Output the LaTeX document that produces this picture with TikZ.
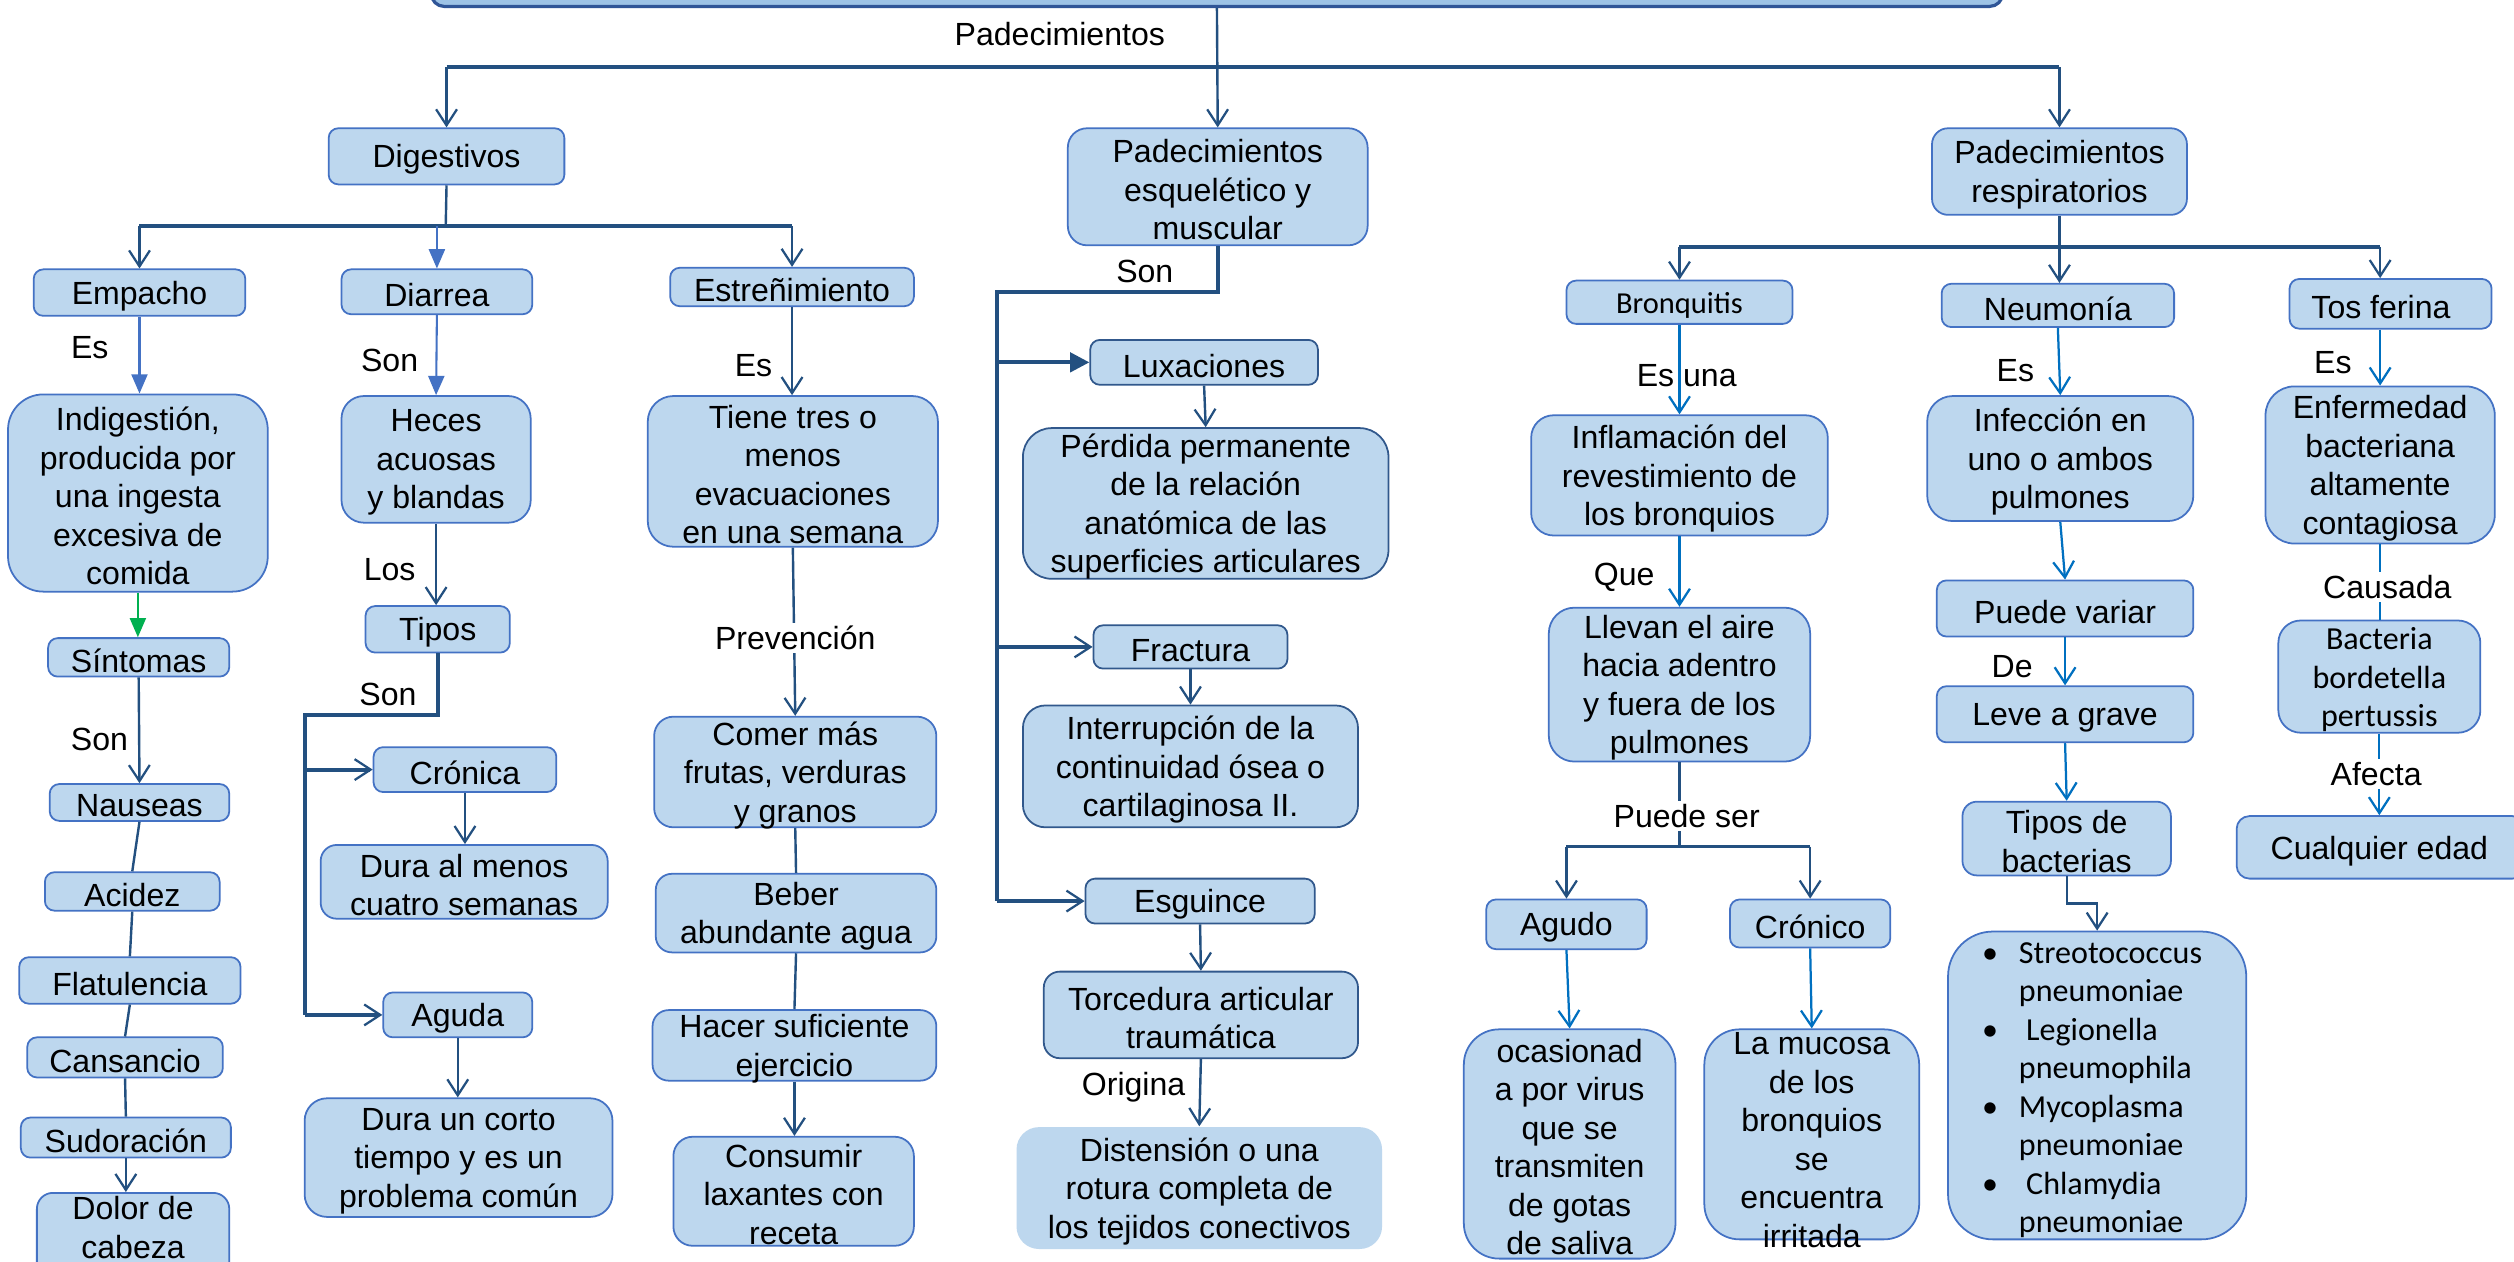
\documentclass[tikz,border=0pt]{standalone}
\usepackage{fontspec}
\setmainfont{Liberation Sans}
\newfontfamily\calfont{Carlito}
\usetikzlibrary{arrows.meta}
\definecolor{bfill}{RGB}{189,215,238}
\definecolor{bbord}{RGB}{68,114,196}
\definecolor{dbord}{RGB}{49,88,140}
\definecolor{lnk}{RGB}{35,80,128}
\definecolor{bblue}{RGB}{0,112,192}
\definecolor{mblue}{RGB}{68,114,196}
\definecolor{grn}{RGB}{0,176,80}
\definecolor{topfill}{RGB}{157,195,230}
\definecolor{topbord}{RGB}{47,85,151}
\newcommand\mybox[7][]{%
  \node[box,#1,minimum width={(#5-#3)*1pt},minimum height={(#6-#4)*1pt}] (#2) at ({(#3+#5)/2},{(#4+#6)/2}) {};
  \node[txt] (#2-t) at (#2.center) {#7};}
\begin{document}
\begin{tikzpicture}[x=1pt,y=-1pt,
  box/.style={draw=bbord,fill=bfill,line width=1.1pt,rounded corners=6pt,inner sep=0pt},
  dk/.style={draw=dbord},
  txt/.style={align=center,inner sep=0pt,yshift=-2pt,font=\fontsize{20}{24}\selectfont},
  lbl/.style={inner sep=1pt,font=\fontsize{20}{24}\selectfont},
  wl/.style={lbl,fill=white,inner sep=2pt},
  ln/.style={draw=lnk,line width=1.5pt},
  thk/.style={draw=lnk,line width=2.4pt},
  bl/.style={draw=bblue,line width=1.4pt},
  mb/.style={draw=mblue,line width=1.3pt},
  V/.style={-{Straight Barb[length=10pt,width=13pt,line width=1.4pt]}},
  T/.style={-{Triangle[length=12pt,width=10pt]}}]
\useasboundingbox (0,0) rectangle (1568,787);
\fill[white] (0,0) rectangle (1568,787);
\begin{scope}
\clip (0,0) rectangle (1568,787);
% top
\node[draw=topbord,fill=topfill,line width=2pt,rounded corners=8pt,minimum width=980pt,minimum height=44pt,inner sep=0pt] (top) at (759,-18) {};
\mybox{dig}{205}{80}{352}{115}{Digestivos}
\mybox[rounded corners=12pt]{pesq}{666}{80}{853}{153}{Padecimientos\\esquelético y\\muscular}
\mybox[rounded corners=10pt]{resp}{1205}{80}{1364}{134}{Padecimientos\\respiratorios}
% digestivos - empacho
\mybox{emp}{21}{168}{153}{197}{Empacho}
\mybox[rounded corners=22pt]{ind}{5}{246}{167}{369}{Indigestión,\\producida por\\una ingesta\\excesiva de\\comida}
\mybox{sin}{30}{398}{143}{422}{Síntomas}
\mybox{nau}{31}{489}{143}{512}{Nauseas}
\mybox{aci}{28}{544}{137}{568}{Acidez}
\mybox{fla}{12}{597}{150}{626}{Flatulencia}
\mybox{can}{17}{647}{139}{672}{Cansancio}
\mybox{sud}{13}{697}{144}{722}{Sudoración}
\node[box,rounded corners=10pt,minimum width=120pt,minimum height=60pt] (dol) at (83,774) {};
\node[align=center,inner sep=0pt,font=\fontsize{20}{24}\selectfont,text depth=0pt,anchor=south] (dol-t) at (83,785) {Dolor de\\cabeza};
% diarrea
\mybox{dia}{213}{168}{332}{196}{Diarrea}
\mybox[rounded corners=14pt]{hec}{213}{247}{331}{326}{Heces\\acuosas\\y blandas}
\mybox{tip}{228}{378}{318}{407}{Tipos}
\mybox{cro}{233}{466}{347}{494}{Crónica}
\mybox[rounded corners=10pt]{dam}{200}{527}{379}{573}{Dura al menos\\cuatro semanas}
\mybox{agu}{239}{619}{332}{647}{Aguda}
\mybox[rounded corners=14pt]{duc}{190}{685}{382}{759}{Dura un corto\\tiempo y es un\\problema común}
% estrenimiento
\mybox{est}{418}{167}{570}{191}{Estreñimiento}
\mybox[rounded corners=16pt]{tie}{404}{247}{585}{341}{Tiene tres o\\menos\\evacuaciones\\en una semana}
\mybox[rounded corners=12pt]{com}{408}{447}{584}{516}{Comer más\\frutas, verduras\\y granos}
\mybox[rounded corners=10pt]{beb}{409}{545}{584}{594}{Beber\\abundante agua}
\mybox[rounded corners=10pt]{hac}{407}{630}{584}{674}{Hacer suficiente\\ejercicio}
\mybox[rounded corners=12pt]{con}{420}{709}{570}{777}{Consumir\\laxantes con\\receta}
% esqueletico
\mybox[dk]{lux}{680}{212}{822}{240}{Luxaciones}
\mybox[dk,rounded corners=18pt]{per}{638}{267}{866}{361}{Pérdida permanente\\de la relación\\anatómica de las\\superficies articulares}
\mybox[dk]{fra}{682}{390}{803}{417}{Fractura}
\mybox[dk,rounded corners=14pt]{int}{638}{440}{847}{516}{Interrupción de la\\continuidad ósea o\\cartilaginosa II.}
\mybox[dk]{esg}{677}{548}{820}{576}{Esguince}
\mybox[dk,rounded corners=10pt]{tor}{651}{606}{847}{660}{Torcedura articular\\traumática}
\mybox[draw=none,rounded corners=14pt]{dis}{634}{703}{862}{779}{Distensión o una\\rotura completa de\\los tejidos conectivos}
% bronquitis
\node[box,minimum width=141pt,minimum height=27pt] (bro) at (1047.5,188.5) {};
\node[txt,font=\calfont\fontsize{19}{24}\selectfont] (bro-t) at (bro.center) {Bronquitis};
\mybox[rounded corners=14pt]{inf}{955}{259}{1140}{334}{Inflamación del\\revestimiento de\\los bronquios}
\mybox[rounded corners=16pt]{lle}{966}{379}{1129}{475}{Llevan el aire\\hacia adentro\\y fuera de los\\pulmones}
\mybox{agd}{927}{561}{1027}{592}{Agudo}
\mybox{crn}{1079}{561}{1179}{591}{Crónico}
\mybox[rounded corners=22pt]{oca}{913}{642}{1045}{785}{ocasionad\\a por virus\\que se\\transmiten\\de gotas\\de saliva}
\node[box,rounded corners=22pt,minimum width=134pt,minimum height=131pt] (muc) at (1130,707.5) {};
\node[txt] (muc-t) at (1130,709) {La mucosa\\de los\\bronquios\\se\\encuentra\\irritada};
% neumonia
\mybox{neu}{1211}{177}{1356}{204}{Neumonía}
\mybox[rounded corners=16pt]{ifc}{1202}{247}{1368}{325}{Infección en\\uno o ambos\\pulmones}
\mybox{pva}{1208}{362}{1368}{397}{Puede variar}
\mybox{lev}{1208}{428}{1368}{463}{Leve a grave}
\mybox[rounded corners=9pt]{tdb}{1224}{500}{1354}{546}{Tipos de\\bacterias}
\node[box,rounded corners=28pt,minimum width=186pt,minimum height=192pt] (lst) at (1308,677) {};
\node[anchor=west,inner sep=0pt,align=left,font=\calfont\fontsize{20}{24}\selectfont] (lst-t) at (1236,680)
  {\makebox[23pt][l]{•}Streotococcus\\\hspace*{23pt}pneumoniae\\\makebox[23pt][l]{•}\ Legionella\\\hspace*{23pt}pneumophila\\\makebox[23pt][l]{•}Mycoplasma\\\hspace*{23pt}pneumoniae\\\makebox[23pt][l]{•}\ Chlamydia\\\hspace*{23pt}pneumoniae};
% tos ferina
\node[box,minimum width=126pt,minimum height=31pt] (tos) at (1491,189.5) {};
\node[txt] (tos-t) at (1485,189.5) {Tos ferina};
\mybox[rounded corners=18pt]{enf}{1413}{241}{1556}{339}{Enfermedad\\bacteriana\\altamente\\contagiosa}
\node[box,rounded corners=14pt,minimum width=126pt,minimum height=70pt] (bac) at (1484,422) {};
\node[txt,font=\calfont\fontsize{20}{24}\selectfont] (bac-t) at (bac.center) {Bacteria\\bordetella\\pertussis};
\node[box,rounded corners=8pt,minimum width=180pt,minimum height=39pt] (cua) at (1485,528.5) {};
\node[txt] (cua-t) at (1484,529) {Cualquier edad};
% labels (beside lines)
\node[lbl] (l-pad) at (661,21) {Padecimientos};
\node[lbl] (l-es1) at (56,217) {Es};
\node[lbl] (l-son1) at (243,225) {Son};
\node[lbl] (l-es2) at (470,228) {Es};
\node[lbl] (l-son2) at (62,461) {Son};
\node[lbl] (l-los) at (243,355) {Los};
\node[lbl] (l-son3) at (242,433) {Son};
\node[lbl] (l-son4) at (714,169) {Son};
\node[lbl] (l-orig) at (707,678) {Origina};
\node[lbl] (l-esuna) at (1052,234) {Es una};
\node[lbl] (l-que) at (1013,360) {Que};
\node[lbl] (l-es3) at (1257,231) {Es};
\node[lbl] (l-de) at (1255,416) {De};
\node[lbl] (l-es4) at (1455,226) {Es};
% connectors: top level
\coordinate (b1) at (760,42);
\draw[ln,V] (top.south) -- (pesq.north);
\draw[thk] (b1 -| dig.north) -- (b1 -| resp.north);
\draw[ln,V] (b1 -| dig.north) -- (dig.north);
\draw[ln,V] (b1 -| resp.north) -- (resp.north);
% digestivos
\coordinate (b2) at (278,141);
\draw[ln] (dig.south) -- (b2);
\draw[thk] (b2 -| emp.north) -- (b2 -| est.north);
\draw[ln,V] (b2 -| emp.north) -- (emp.north);
\draw[mb,T] (b2 -| dia.north) -- (dia.north);
\draw[ln,V] (b2 -| est.north) -- (est.north);
\draw[mb,T] (emp.south) -- (emp.south |- ind.north);
\draw[draw=grn,line width=1.4pt,T] (ind.south) -- (ind.south |- sin.north);
\draw[ln,V] (sin.south) -- (nau.north);
\draw[ln] (nau.south) -- (aci.north);
\draw[ln] (aci.south) -- (fla.north);
\draw[ln] (fla.south) -- (can.north);
\draw[ln] (can.south) -- (sud.north);
\draw[ln,V] (sud.south) -- (sud.south |- dol.north);
\draw[mb,T] (dia.south) -- (hec.north);
\draw[ln,V] (hec.south) -- (hec.south |- tip.north);
\coordinate (b3) at (190,446);
\draw[thk] (tip.south) |- (b3) -- (b3 |- agu.west);
\draw[thk,V] (b3 |- cro.west) -- (cro.west);
\draw[thk,V] (b3 |- agu.west) -- (agu.west);
\draw[ln,V] (cro.south) -- (cro.south |- dam.north);
\draw[ln,V] (agu.south) -- (agu.south |- duc.north);
\draw[ln,V] (est.south) -- (est.south |- tie.north);
\draw[ln,V] (tie.south) -- (com.north);
\node[wl] (l-prev) at (496,398) {Prevención};
\draw[ln] (com.south) -- (beb.north);
\draw[ln] (beb.south) -- (hac.north);
\draw[ln,V] (hac.south) -- (hac.south |- con.north);
% esqueletico
\coordinate (b4) at (622,182);
\draw[thk] (pesq.south) |- (b4) -- (b4 |- esg.west);
\draw[thk,-{Triangle[length=12pt,width=12pt]}] (b4 |- lux.west) -- (lux.west);
\draw[thk,V] (b4 |- fra.west) -- (fra.west);
\draw[thk,V] (b4 |- esg.west) -- (esg.west);
\draw[ln,V] (lux.south) -- (per.north);
\draw[ln,V] (fra.south) -- (fra.south |- int.north);
\draw[ln,V] (esg.south) -- (tor.north);
\draw[ln,V] (tor.south) -- (dis.north);
% respiratorios
\coordinate (b5) at (1284,154);
\draw[ln,V] (resp.south) -- (resp.south |- neu.north);
\draw[thk] (b5 -| bro.north) -- (b5 -| enf.north);
\draw[ln,V] (b5 -| bro.north) -- (bro.north);
\draw[ln,V] (b5 -| enf.north) -- (enf.north |- tos.north);
\draw[bl,V] (bro.south) -- (bro.south |- inf.north);
\draw[bl,V] (inf.south) -- (inf.south |- lle.north);
\coordinate (b6) at (1047,528);
\draw[thk] (lle.south) -- (lle.south |- b6);
\draw[thk] (b6 -| agd.north) -- (b6 -| crn.north);
\draw[ln,V] (b6 -| agd.north) -- (agd.north);
\draw[ln,V] (b6 -| crn.north) -- (crn.north);
\node[wl] (l-pse) at (1052,509) {Puede ser};
\draw[bl,V] (agd.south) -- (oca.north);
\draw[bl,V] (crn.south) -- (muc.north);
\draw[bl,V] (neu.south) -- (ifc.north);
\draw[bl,V] (ifc.south) -- (pva.north);
\draw[bl,V] (pva.south) -- (lev.north);
\draw[bl,V] (lev.south) -- (tdb.north);
\draw[ln,V] (tdb.south) -- ++(0,17) -| (lst.north);
\draw[bl,V] (enf.north |- tos.south) -- (enf.north);
\draw[bl] (enf.south) -- (enf.south |- bac.north);
\draw[bl,V] (bac.south) -- (bac.south |- cua.north);
\node[wl] (l-caus) at (1489,366) {Causada};
\node[wl] (l-afe) at (1482,483) {Afecta};
\end{scope}
\end{tikzpicture}
\end{document}
